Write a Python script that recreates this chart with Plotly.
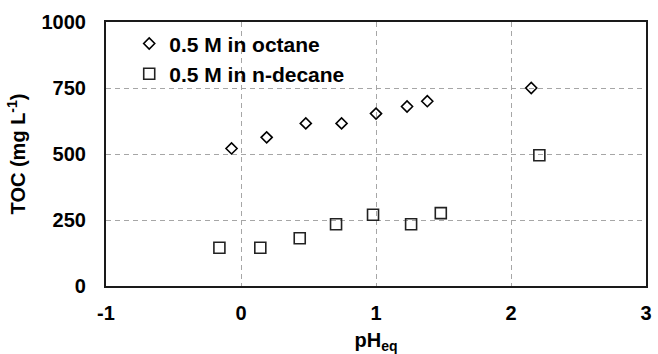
import plotly.graph_objects as go

# Data
octane_ph = [-0.07, 0.19, 0.48, 0.745, 1.0, 1.23, 1.38, 2.15]
octane_toc = [521, 563, 616, 616, 653, 680, 700, 750]

decane_ph = [-0.16, 0.143, 0.435, 0.704, 0.978, 1.26, 1.48, 2.21]
decane_toc = [145, 145, 181, 234, 270, 234, 276, 495]

x_ticks = [-1, 0, 1, 2, 3]
y_ticks = [0, 250, 500, 750, 1000]

series_names = ["0.5 M in octane", "0.5 M in n-decane"]

FONT = "Liberation Sans, Arial, sans-serif"

fig = go.Figure()
fig.add_trace(go.Scatter(
    x=octane_ph, y=octane_toc, mode="markers", name="<b>" + series_names[0] + "</b>",
    marker=dict(symbol="diamond-open", size=8.5, color="black", line=dict(width=1.6, color="black")),
))
fig.add_trace(go.Scatter(
    x=decane_ph, y=decane_toc, mode="markers", name="<b>" + series_names[1] + "</b>",
    marker=dict(symbol="square-open", size=11, color="#222", line=dict(width=1.6, color="#222")),
))

axis_common = dict(
    showline=True, mirror=True, linewidth=2.2, linecolor="#1a1a1a",
    showgrid=True, gridcolor="#a6a6a6", gridwidth=1.2, griddash="5px,4px",
    zeroline=False, ticks="",
    tickfont=dict(family=FONT, size=20, color="black"),
)

fig.update_xaxes(
    range=[-1, 3], tickvals=x_ticks, ticktext=["<b>%d</b>" % v for v in x_ticks],
    title=dict(text="<b>pH<sub>eq</sub></b>", font=dict(family=FONT, size=20, color="black"), standoff=10),
    ticklabelstandoff=8,
    **axis_common,
)
fig.update_yaxes(
    range=[0, 1000], tickvals=y_ticks, ticktext=["<b>%d</b>" % v for v in y_ticks],
    title=dict(text="<b>TOC (mg L<sup>-1</sup>)</b>", font=dict(family=FONT, size=20, color="black"), standoff=10),
    ticklabelstandoff=14,
    **axis_common,
)

fig.update_layout(
    width=658, height=354,
    margin=dict(l=106, r=6, t=22, b=68),
    paper_bgcolor="white", plot_bgcolor="white",
    showlegend=True,
    legend=dict(
        x=0.043, y=0.995, xanchor="left", yanchor="top",
        bgcolor="rgba(0,0,0,0)", borderwidth=0,
        font=dict(family=FONT, size=21, color="black"),
        itemwidth=30, tracegroupgap=0,
    ),
)

fig.write_html("out.html")
